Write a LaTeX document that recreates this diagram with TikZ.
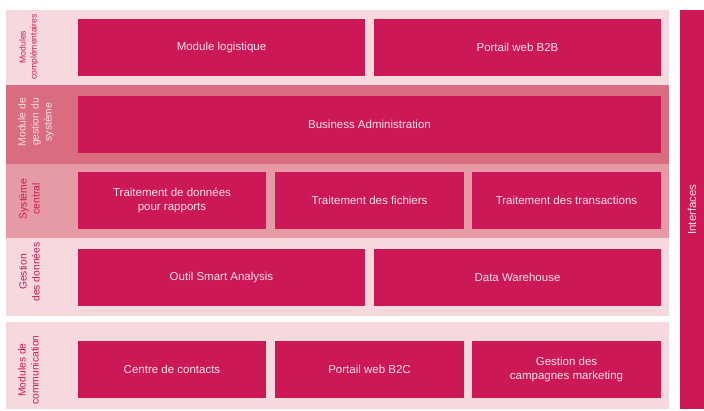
\documentclass[tikz,border=0pt]{standalone}
\usepackage{fontspec}
\setmainfont{Liberation Sans}
\usepackage{xcolor}
\definecolor{boxpink}{RGB}{204,24,86}
\definecolor{boxtext}{RGB}{250,225,232}
\definecolor{bandlight}{RGB}{245,217,221}
\definecolor{banddark}{RGB}{217,108,126}
\definecolor{bandmid}{RGB}{229,154,165}
\tikzset{
  modbox/.style={fill=boxpink, text=boxtext, inner sep=0, anchor=center,
    minimum height=57pt, font=\fontsize{11.5}{14}\selectfont, align=center},
  sidelabel/.style={rotate=90, align=center, inner sep=0, text=boxpink,
    font=\fontsize{10.3}{13}\selectfont},
}

\begin{document}
\begin{tikzpicture}[x=1pt,y=-1pt]
\useasboundingbox (0,0) rectangle (704,410);
% bands
\fill[bandlight] (6,10) rectangle (669,85);
\fill[banddark] (6,85) rectangle (669,164);
\fill[bandmid] (6,164) rectangle (669,238);
\fill[bandlight] (6,238) rectangle (669,316);
\fill[bandlight] (6,322) rectangle (669,409);
% side labels
\node[sidelabel, font=\fontsize{8.6}{11}\selectfont] (lcompl) at (29,47) {Modules\\complémentaires};
\node[sidelabel, text=boxtext] (lgest) at (36,122) {Module de\\gestion du\\système};
\node[sidelabel] (lcentral) at (29.5,199) {Système\\central};
\node[sidelabel] (ldonnees) at (29.5,272) {Gestion\\des données};
\node[sidelabel] (lcomm) at (28.5,370) {Modules de\\communication};
% row 1
\node[modbox, minimum width=287pt] (logist) at (221.5,47.5) {Module logistique};
\node[modbox, minimum width=287pt] (btob) at (517.5,47.5) {Portail web B2B};
% row 2
\node[modbox, minimum width=583pt] (busadm) at (369.5,124.5) {Business Administration};
% row 3
\node[modbox, minimum width=188pt] (rapports) at (172,200.5) {Traitement de données\\pour rapports};
\node[modbox, minimum width=189pt] (fichiers) at (369.5,200.5) {Traitement des fichiers};
\node[modbox, minimum width=189pt] (transac) at (566.5,200.5) {Traitement des transactions};
% row 4
\node[modbox, minimum width=287pt] (smart) at (221.5,277.5) {Outil Smart Analysis};
\node[modbox, minimum width=287pt] (dwh) at (517.5,277.5) {Data Warehouse};
% row 5
\node[modbox, minimum width=188pt] (contacts) at (172,369.5) {Centre de contacts};
\node[modbox, minimum width=189pt] (btoc) at (369.5,369.5) {Portail web B2C};
\node[modbox, minimum width=189pt] (campagnes) at (566.5,369.5) {Gestion des\\campagnes marketing};
% interfaces
\node[modbox, minimum width=399pt, minimum height=24pt, rotate=90] (interf) at (692,209.5) {Interfaces};
\end{tikzpicture}
\end{document}
